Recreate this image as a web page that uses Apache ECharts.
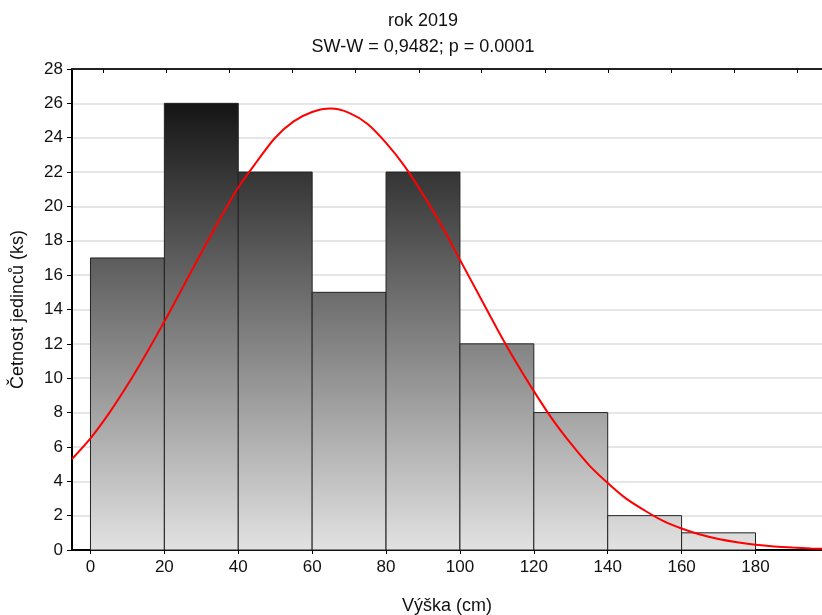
<!DOCTYPE html>
<html>
<head>
<meta charset="utf-8">
<script src="https://cdn.jsdelivr.net/npm/echarts@6/dist/echarts.min.js"></script>
<style>html,body{margin:0;padding:0;background:#fff}#c{width:822px;height:615px}</style>
</head>
<body>
<div id="c"></div>
<script>
// Histogram bins (cm) and counts
const binStarts = [0, 20, 40, 60, 80, 100, 120, 140, 160];
const binEnds   = [20, 40, 60, 80, 100, 120, 140, 160, 180];
const counts    = [17, 26, 22, 15, 22, 12, 8, 2, 1];
// Fitted normal curve
const curveX = [-5, 0, 5, 10, 15, 20, 25, 30, 35, 40, 45, 50, 55, 60, 65, 70, 75, 80, 85, 90, 95, 100, 105, 110, 115, 120, 125, 130, 135, 140, 145, 150, 155, 160, 165, 170, 175, 180, 185, 190, 195, 200];
const curveY = [5.3, 6.5, 7.95, 9.6, 11.4, 13.3, 15.3, 17.3, 19.25, 21.1, 22.6, 24.0, 24.95, 25.5, 25.7, 25.45, 24.8, 23.7, 22.35, 20.7, 18.9, 16.9, 14.9, 12.9, 11.0, 9.25, 7.62, 6.2, 4.93, 3.9, 2.99, 2.3, 1.69, 1.25, 0.9, 0.64, 0.45, 0.31, 0.21, 0.14, 0.09, 0.06];
// Tick labels
const xTickValues = [0, 20, 40, 60, 80, 100, 120, 140, 160, 180];
const topTickValues = [3.5, 20.6, 37.6, 54.7, 71.8, 88.9, 105.9, 123.0, 140.1, 157.2, 174.2, 191.3];
const titleText = 'rok 2019';
const subTitleText = 'SW-W = 0,9482; p = 0.0001';
const xName = 'Výška (cm)';
const yName = 'Četnost jedinců (ks)';

const histData = binStarts.map((s, i) => [s, binEnds[i], counts[i]]);
const curveData = curveX.map((x, i) => [x, curveY[i]]);

const chart = echarts.init(document.getElementById('c'), null, {renderer: 'canvas'});
const font = 'Liberation Sans, Arial, sans-serif';
const barFill = new echarts.graphic.LinearGradient(0, 69, 0, 550, [
  {offset: 0, color: '#050505'},
  {offset: 1, color: '#e2e2e2'}
], true);

chart.setOption({
  animation: false,
  backgroundColor: '#fff',
  title: [
    {text: titleText, left: 418, top: 7, textAlign: 'center',
     textStyle: {fontFamily: font, fontSize: 18, fontWeight: 'normal', color: '#111'}},
    {text: subTitleText, left: 418, top: 33, textAlign: 'center',
     textStyle: {fontFamily: font, fontSize: 18, fontWeight: 'normal', color: '#111'}}
  ],
  grid: {left: 72, right: 0, top: 69, bottom: 65, containLabel: false, outerBoundsMode: 'none'},
  xAxis: [
    {
      type: 'value', min: -5, max: 198, position: 'bottom',
      name: xName, nameLocation: 'middle', nameGap: 47,
      nameTextStyle: {fontFamily: font, fontSize: 18, color: '#111'},
      axisLine: {show: true, onZero: false, lineStyle: {color: '#000', width: 2}},
      axisTick: {show: true, length: 4, inside: false, customValues: xTickValues, lineStyle: {color: '#000'}},
      axisLabel: {customValues: xTickValues, fontFamily: font, fontSize: 17, color: '#111', margin: 9},
      splitLine: {show: false}
    },
    {
      type: 'value', min: -5, max: 198, position: 'top',
      axisLine: {show: true, onZero: false, lineStyle: {color: '#222', width: 2}},
      axisTick: {show: true, inside: true, length: 4, customValues: topTickValues, lineStyle: {color: '#000'}},
      axisLabel: {show: false},
      splitLine: {show: false}
    }
  ],
  yAxis: {
    type: 'value', min: 0, max: 28, interval: 2,
    name: yName, nameLocation: 'middle', nameGap: 45,
    nameTextStyle: {fontFamily: font, fontSize: 18, color: '#111'},
    axisLine: {show: true, onZero: false, lineStyle: {color: '#000', width: 2}},
    axisTick: {show: true, length: 5, lineStyle: {color: '#000'}},
    axisLabel: {fontFamily: font, fontSize: 17, color: '#111', margin: 9},
    splitLine: {show: true, lineStyle: {color: '#dedede', width: 1.5}}
  },
  series: [
    {
      type: 'custom', xAxisIndex: 0, yAxisIndex: 0,
      data: histData,
      encode: {x: [0, 1], y: 2},
      renderItem: function (params, api) {
        const p0 = api.coord([api.value(0), api.value(2)]);
        const p1 = api.coord([api.value(1), 0]);
        return {
          type: 'rect',
          shape: {x: p0[0], y: p0[1], width: p1[0] - p0[0], height: p1[1] - p0[1]},
          style: {fill: barFill, stroke: '#222', lineWidth: 1}
        };
      },
      z: 2
    },
    {
      type: 'line', xAxisIndex: 0, yAxisIndex: 0,
      data: curveData, smooth: 0.3, showSymbol: false, symbol: 'none',
      lineStyle: {color: '#ff0000', width: 2},
      clip: true, z: 3
    }
  ]
});
</script>
</body>
</html>
